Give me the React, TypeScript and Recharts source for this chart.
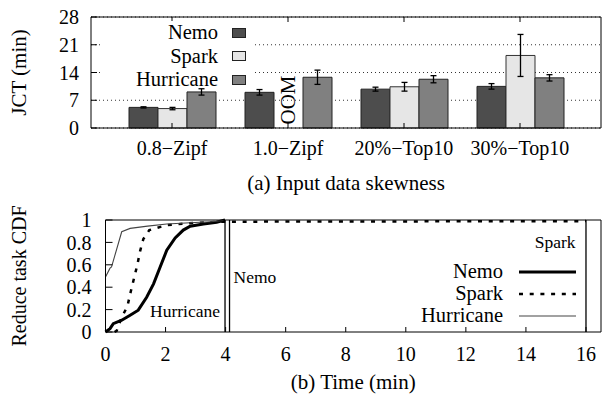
import React from 'react';
import {
  BarChart,
  Bar,
  ErrorBar,
  XAxis,
  YAxis,
  CartesianGrid,
  Legend,
  ReferenceDot,
  LineChart,
  Line,
  ReferenceLine,
} from 'recharts';

// (a) job completion time per skew setting
const categories = ['0.8−Zipf', '1.0−Zipf', '20%−Top10', '30%−Top10'];
const nemoJct = [5.2, 9.0, 9.8, 10.5];
const nemoJctErr = [0.15, 0.7, 0.5, 0.7];
const sparkJct = [4.9, null, 10.4, 18.3];
const sparkJctErr = [0.3, null, 1.1, 5.3];
const hurricaneJct = [9.1, 12.8, 12.3, 12.65];
const hurricaneJctErr = [0.8, 1.8, 0.9, 0.8];
const jctTicks = [0, 7, 14, 21, 28];

// (b) reduce task CDF over time
const nemoTime = [0, 0.15, 0.26, 0.54, 0.82, 1.09, 1.37, 1.6, 1.82, 2.04, 2.32, 2.59, 2.82, 3.26, 3.7, 3.98];
const nemoCdf = [0, 0.03, 0.075, 0.105, 0.15, 0.195, 0.31, 0.43, 0.58, 0.73, 0.84, 0.91, 0.945, 0.964, 0.98, 1.0];
const sparkTime = [0.3, 0.37, 0.54, 0.73, 0.84, 0.95, 1.06, 1.15, 1.26, 1.46, 2.04, 3.0, 4.0, 16];
const sparkCdf = [0, 0.01, 0.13, 0.23, 0.36, 0.48, 0.6, 0.72, 0.83, 0.91, 0.955, 0.975, 0.985, 0.99];
const hurricaneTime = [0, 0.15, 0.2, 0.54, 0.82, 1.4, 2.04, 2.82, 3.5, 3.93];
const hurricaneCdf = [0.49, 0.57, 0.58, 0.895, 0.925, 0.945, 0.964, 0.976, 0.985, 0.995];
const hurricaneEnd = 3.98;
const nemoEnd = 4.13;
const sparkEnd = 16;
const timeTicks = [0, 2, 4, 6, 8, 10, 12, 14, 16];
const cdfTicks = [0, 0.2, 0.4, 0.6, 0.8, 1];

const seriesOrder = ['Nemo', 'Spark', 'Hurricane'];

const barData = categories.map((name, i) => ({
  name,
  nemo: nemoJct[i],
  nemoErr: nemoJctErr[i],
  spark: sparkJct[i],
  sparkErr: sparkJctErr[i],
  hurricane: hurricaneJct[i],
  hurricaneErr: hurricaneJctErr[i],
}));

const toPoints = (t: number[], p: number[]) => t.map((x, i) => ({ t: x, p: p[i] }));
const nemoPoints = toPoints(nemoTime, nemoCdf);
const sparkPoints = toPoints(sparkTime, sparkCdf);
const hurricanePoints = toPoints(hurricaneTime, hurricaneCdf);

const FONT = "'Liberation Serif', serif";
const tickStyle = { fontSize: 20, fill: '#000', fontFamily: FONT };

const inOrder = (payload: any[]) =>
  [...(payload || [])].sort((a, b) => seriesOrder.indexOf(a.value) - seriesOrder.indexOf(b.value));

const axisCaption = (text: string, dy: number) => (props: any) => {
  const { x, y, width } = props.viewBox;
  return (
    <text x={x + width / 2} y={y + dy} textAnchor="middle" fontSize={21} fill="#000" fontFamily={FONT}>
      {text}
    </text>
  );
};

const axisTitle = (text: string, dx: number, size: number) => (props: any) => {
  const { x, y, height } = props.viewBox;
  const cx = x + dx;
  const cy = y + height / 2;
  return (
    <text
      x={cx}
      y={cy}
      dy="0.35em"
      transform={`rotate(-90 ${cx} ${cy})`}
      textAnchor="middle"
      fontSize={size}
      fill="#000"
      fontFamily={FONT}
    >
      {text}
    </text>
  );
};

const oomLabel = (props: any) => {
  const { x, y } = props.viewBox;
  const cy = y - 28;
  return (
    <text
      x={x}
      y={cy}
      dy="0.35em"
      transform={`rotate(-90 ${x} ${cy})`}
      textAnchor="middle"
      fontSize={21}
      fill="#000"
      fontFamily={FONT}
    >
      OOM
    </text>
  );
};

const endLabel = (text: string, dx: number, dy: number) => (props: any) => {
  const { x, y } = props.viewBox;
  return (
    <text x={x + dx} y={y + dy} textAnchor={dx < 0 ? 'end' : 'start'} fontSize={17.5} fill="#000" fontFamily={FONT}>
      {text}
    </text>
  );
};

const barLegend = (props: any) => (
  <div style={{ background: '#fff', width: 151, height: 66, overflow: 'visible', fontFamily: FONT }}>
    {inOrder(props.payload).map((item: any) => (
      <div
        key={item.value}
        style={{ display: 'flex', justifyContent: 'flex-end', alignItems: 'center', height: 23.5, fontSize: 20.5 }}
      >
        <span>{item.value}</span>
        <span
          style={{
            width: 14,
            height: 10,
            boxSizing: 'border-box',
            background: item.color,
            border: '1px solid #222',
            margin: '0 8px 0 14px',
          }}
        />
      </div>
    ))}
  </div>
);

const lineLook: Record<string, { w: number; dash?: string; color: string }> = {
  Nemo: { w: 3, color: '#000' },
  Spark: { w: 2.5, dash: '4 6.7', color: '#000' },
  Hurricane: { w: 1.1, color: '#444' },
};

const lineLegend = (props: any) => (
  <div style={{ width: 182, fontFamily: FONT }}>
    {inOrder(props.payload).map((item: any) => {
      const look = lineLook[item.value];
      return (
        <div
          key={item.value}
          style={{ display: 'flex', justifyContent: 'flex-end', alignItems: 'center', height: 22, fontSize: 20.5 }}
        >
          <span>{item.value}</span>
          <svg width={57} height={6} style={{ margin: '0 6px 0 16px' }}>
            <line x1={0} y1={3} x2={57} y2={3} stroke={look.color} strokeWidth={look.w} strokeDasharray={look.dash} />
          </svg>
        </div>
      );
    })}
  </div>
);

function SkewChart() {
  return (
    <BarChart
      width={602}
      height={196}
      data={barData}
      margin={{ top: 17, right: 1, bottom: 0, left: 0 }}
      barSize={29}
      barGap={0}
    >
      <CartesianGrid vertical={false} stroke="#000" strokeDasharray="1 3" strokeWidth={0.8} />
      <XAxis
        dataKey="name"
        padding={{ left: 23, right: 23 }}
        height={68}
        interval={0}
        stroke="#000"
        tickSize={-5}
        tickMargin={18}
        tick={tickStyle}
        label={{ content: axisCaption('(a) Input data skewness', 62.4) }}
      />
      <XAxis
        xAxisId="top"
        dataKey="name"
        orientation="top"
        mirror
        padding={{ left: 23, right: 23 }}
        interval={0}
        stroke="#000"
        tickSize={5}
        tickFormatter={() => ''}
      />
      <YAxis
        width={91}
        domain={[0, 28]}
        ticks={jctTicks}
        interval={0}
        stroke="#000"
        tickSize={-6}
        tickMargin={18}
        tick={tickStyle}
        label={{ content: axisTitle('JCT (min)', 19, 21) }}
      />
      <YAxis
        yAxisId="right"
        orientation="right"
        mirror
        domain={[0, 28]}
        ticks={jctTicks}
        interval={0}
        stroke="#000"
        tickSize={6}
        tickFormatter={() => ''}
      />
      <Legend
        layout="horizontal"
        verticalAlign="middle"
        align="center"
        content={barLegend}
        wrapperStyle={{ left: 103, top: 21, width: 151, height: 66 }}
      />
      <Bar dataKey="nemo" name="Nemo" fill="#4d4d4d" stroke="#222" strokeWidth={1} isAnimationActive={false}>
        <ErrorBar dataKey="nemoErr" width={3} stroke="#000" strokeWidth={1.3} />
      </Bar>
      <Bar dataKey="spark" name="Spark" fill="#e6e6e6" stroke="#333" strokeWidth={1} isAnimationActive={false}>
        <ErrorBar dataKey="sparkErr" width={3} stroke="#000" strokeWidth={1.3} />
      </Bar>
      <Bar dataKey="hurricane" name="Hurricane" fill="#808080" stroke="#222" strokeWidth={1} isAnimationActive={false}>
        <ErrorBar dataKey="hurricaneErr" width={3} stroke="#000" strokeWidth={1.3} />
      </Bar>
      <ReferenceDot x={categories[1]} y={0} r={0} label={{ content: oomLabel }} />
    </BarChart>
  );
}

function CdfChart() {
  return (
    <LineChart width={602} height={206} margin={{ top: 30, right: 1, bottom: 0, left: 0 }}>
      <XAxis
        type="number"
        dataKey="t"
        domain={[0, 16.5]}
        ticks={timeTicks}
        interval={0}
        height={64}
        stroke="#000"
        tickSize={-5}
        tickMargin={20}
        tick={tickStyle}
        label={{ content: axisCaption('(b) Time (min)', 57) }}
      />
      <XAxis
        xAxisId="top"
        type="number"
        dataKey="t"
        orientation="top"
        mirror
        domain={[0, 16.5]}
        ticks={timeTicks}
        interval={0}
        stroke="#000"
        tickSize={5}
        tickFormatter={() => ''}
      />
      <YAxis
        width={105.5}
        domain={[0, 1]}
        ticks={cdfTicks}
        interval={0}
        stroke="#000"
        tickSize={-7}
        tickMargin={21}
        tick={tickStyle}
        label={{ content: axisTitle('Reduce task CDF', 19, 20) }}
      />
      <YAxis
        yAxisId="right"
        orientation="right"
        mirror
        domain={[0, 1]}
        ticks={cdfTicks}
        interval={0}
        stroke="#000"
        tickSize={7}
        tickFormatter={() => ''}
      />
      <ReferenceLine x={hurricaneEnd} stroke="#000" strokeWidth={1.3} label={{ content: endLabel('Hurricane', -5, 96.7) }} />
      <ReferenceLine x={nemoEnd} stroke="#000" strokeWidth={1.3} label={{ content: endLabel('Nemo', 4, 63.3) }} />
      <ReferenceLine x={sparkEnd} stroke="#000" strokeWidth={1.3} label={{ content: endLabel('Spark', -10.5, 28) }} />
      <Line
        data={nemoPoints}
        dataKey="p"
        name="Nemo"
        stroke={lineLook.Nemo.color}
        strokeWidth={lineLook.Nemo.w}
        dot={false}
        isAnimationActive={false}
      />
      <Line
        data={sparkPoints}
        dataKey="p"
        name="Spark"
        stroke={lineLook.Spark.color}
        strokeWidth={lineLook.Spark.w}
        strokeDasharray={lineLook.Spark.dash}
        dot={false}
        isAnimationActive={false}
      />
      <Line
        data={hurricanePoints}
        dataKey="p"
        name="Hurricane"
        stroke={lineLook.Hurricane.color}
        strokeWidth={lineLook.Hurricane.w}
        dot={false}
        isAnimationActive={false}
      />
      <Legend
        layout="horizontal"
        verticalAlign="middle"
        align="center"
        content={lineLegend}
        wrapperStyle={{ left: 400, top: 70.5, width: 182 }}
      />
    </LineChart>
  );
}

export default function App() {
  return (
    <div
      style={{
        position: 'absolute',
        left: 0,
        top: 0,
        width: 602,
        height: 396,
        background: '#fff',
        fontFamily: FONT,
        color: '#000',
      }}
    >
      <div style={{ position: 'absolute', left: 0, top: 0 }}>
        <SkewChart />
      </div>
      <div style={{ position: 'absolute', left: 0, top: 190 }}>
        <CdfChart />
      </div>
    </div>
  );
}
